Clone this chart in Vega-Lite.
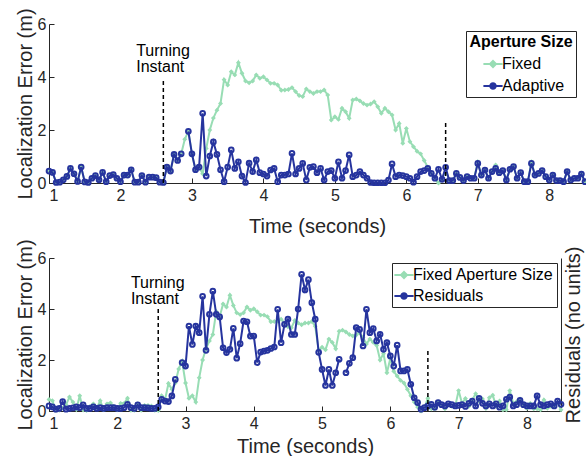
{
  "$schema": "https://vega.github.io/schema/vega-lite/v6.json",
  "padding": {"left": 15, "top": 7, "right": 0, "bottom": 0},
  "spacing": 2,
  "datasets": {
    "fixed": [
      {"t":1.00,"v":0.45},{"t":1.05,"v":0.40},{"t":1.10,"v":0.02},{"t":1.15,"v":0.03},{"t":1.20,"v":0.12},{"t":1.25,"v":0.25},{"t":1.30,"v":0.55},{"t":1.35,"v":0.35},{"t":1.40,"v":0.06},{"t":1.45,"v":0.60},
      {"t":1.50,"v":0.04},{"t":1.55,"v":0.02},{"t":1.60,"v":0.18},{"t":1.65,"v":0.28},{"t":1.70,"v":0.12},{"t":1.75,"v":0.40},{"t":1.80,"v":0.05},{"t":1.85,"v":0.28},{"t":1.90,"v":0.32},{"t":1.95,"v":0.18},
      {"t":2.00,"v":0.05},{"t":2.05,"v":0.30},{"t":2.10,"v":0.30},{"t":2.15,"v":0.50},{"t":2.20,"v":0.03},{"t":2.25,"v":0.03},{"t":2.30,"v":0.28},{"t":2.35,"v":0.03},{"t":2.40,"v":0.22},{"t":2.45,"v":0.22},
      {"t":2.50,"v":0.20},{"t":2.55,"v":0.03},{"t":2.60,"v":0.02},{"t":2.65,"v":0.60},{"t":2.70,"v":0.45},{"t":2.75,"v":1.08},{"t":2.80,"v":0.85},{"t":2.85,"v":1.10},{"t":2.90,"v":1.65},{"t":2.95,"v":1.95},
      {"t":3.00,"v":1.10},{"t":3.05,"v":0.50},{"t":3.10,"v":0.60},{"t":3.15,"v":0.35},{"t":3.20,"v":1.30},{"t":3.25,"v":2.00},{"t":3.30,"v":2.45},{"t":3.35,"v":2.75},{"t":3.40,"v":3.00},{"t":3.45,"v":3.90},
      {"t":3.50,"v":3.70},{"t":3.55,"v":4.20},{"t":3.60,"v":4.08},{"t":3.65,"v":4.54},{"t":3.70,"v":4.14},{"t":3.75,"v":3.85},{"t":3.80,"v":3.78},{"t":3.85,"v":3.85},{"t":3.90,"v":4.08},{"t":3.95,"v":3.95},
      {"t":4.00,"v":4.01},{"t":4.05,"v":3.89},{"t":4.10,"v":3.76},{"t":4.15,"v":3.76},{"t":4.20,"v":3.70},{"t":4.25,"v":3.50},{"t":4.30,"v":3.51},{"t":4.35,"v":3.53},{"t":4.40,"v":3.60},{"t":4.45,"v":3.45},
      {"t":4.50,"v":3.30},{"t":4.55,"v":3.26},{"t":4.60,"v":3.55},{"t":4.65,"v":3.45},{"t":4.70,"v":3.38},{"t":4.75,"v":3.45},{"t":4.80,"v":3.45},{"t":4.85,"v":3.51},{"t":4.90,"v":3.32},{"t":4.95,"v":2.38},
      {"t":5.00,"v":2.50},{"t":5.05,"v":2.40},{"t":5.10,"v":2.82},{"t":5.15,"v":2.69},{"t":5.20,"v":2.44},{"t":5.25,"v":3.13},{"t":5.30,"v":3.17},{"t":5.35,"v":3.10},{"t":5.40,"v":3.00},{"t":5.45,"v":2.94},
      {"t":5.50,"v":2.98},{"t":5.55,"v":3.07},{"t":5.60,"v":2.88},{"t":5.65,"v":2.63},{"t":5.70,"v":2.82},{"t":5.75,"v":2.69},{"t":5.80,"v":2.57},{"t":5.85,"v":2.00},{"t":5.90,"v":2.25},{"t":5.95,"v":1.50},
      {"t":6.00,"v":2.06},{"t":6.05,"v":1.56},{"t":6.10,"v":1.37},{"t":6.15,"v":1.20},{"t":6.20,"v":1.10},{"t":6.25,"v":0.85},{"t":6.30,"v":0.60},{"t":6.35,"v":0.35},{"t":6.40,"v":0.15},{"t":6.45,"v":0.00},
      {"t":6.50,"v":0.14},{"t":6.55,"v":0.50},{"t":6.60,"v":0.09},{"t":6.65,"v":0.09},{"t":6.70,"v":0.36},{"t":6.75,"v":0.21},{"t":6.80,"v":0.09},{"t":6.85,"v":0.24},{"t":6.90,"v":0.18},{"t":6.95,"v":0.18},
      {"t":7.00,"v":0.80},{"t":7.05,"v":0.30},{"t":7.10,"v":0.49},{"t":7.15,"v":0.18},{"t":7.20,"v":0.43},{"t":7.25,"v":0.68},{"t":7.30,"v":0.39},{"t":7.35,"v":0.47},{"t":7.40,"v":0.11},{"t":7.45,"v":0.52},
      {"t":7.50,"v":0.62},{"t":7.55,"v":0.18},{"t":7.60,"v":0.39},{"t":7.65,"v":0.05},{"t":7.70,"v":0.05},{"t":7.75,"v":0.80},{"t":7.80,"v":0.30},{"t":7.85,"v":0.36},{"t":7.90,"v":0.47},{"t":7.95,"v":0.24},
      {"t":8.00,"v":0.11},{"t":8.05,"v":0.30},{"t":8.10,"v":0.09},{"t":8.15,"v":0.09},{"t":8.20,"v":0.05},{"t":8.25,"v":0.43},{"t":8.30,"v":0.11},{"t":8.35,"v":0.18},{"t":8.40,"v":0.18},{"t":8.45,"v":0.34},
      {"t":8.50,"v":0.05}
    ],
    "adaptive": [
      {"t":1.00,"v":0.45},{"t":1.05,"v":0.40},{"t":1.10,"v":0.02},{"t":1.15,"v":0.03},{"t":1.20,"v":0.12},{"t":1.25,"v":0.25},{"t":1.30,"v":0.55},{"t":1.35,"v":0.35},{"t":1.40,"v":0.06},{"t":1.45,"v":0.60},
      {"t":1.50,"v":0.04},{"t":1.55,"v":0.02},{"t":1.60,"v":0.18},{"t":1.65,"v":0.28},{"t":1.70,"v":0.12},{"t":1.75,"v":0.40},{"t":1.80,"v":0.05},{"t":1.85,"v":0.28},{"t":1.90,"v":0.32},{"t":1.95,"v":0.18},
      {"t":2.00,"v":0.05},{"t":2.05,"v":0.30},{"t":2.10,"v":0.30},{"t":2.15,"v":0.50},{"t":2.20,"v":0.03},{"t":2.25,"v":0.03},{"t":2.30,"v":0.28},{"t":2.35,"v":0.03},{"t":2.40,"v":0.22},{"t":2.45,"v":0.22},
      {"t":2.50,"v":0.20},{"t":2.55,"v":0.03},{"t":2.60,"v":0.02},{"t":2.65,"v":0.60},{"t":2.70,"v":0.45},{"t":2.75,"v":1.08},{"t":2.80,"v":0.85},{"t":2.85,"v":1.10},{"t":2.90,"v":null},{"t":2.95,"v":1.95},
      {"t":3.00,"v":1.10},{"t":3.05,"v":0.50},{"t":3.10,"v":0.60},{"t":3.15,"v":2.63},{"t":3.20,"v":0.26},{"t":3.25,"v":1.02},{"t":3.30,"v":1.55},{"t":3.35,"v":1.08},{"t":3.40,"v":0.50},{"t":3.45,"v":0.05},
      {"t":3.50,"v":0.60},{"t":3.55,"v":1.25},{"t":3.60,"v":0.55},{"t":3.65,"v":0.80},{"t":3.70,"v":0.26},{"t":3.75,"v":0.02},{"t":3.80,"v":0.75},{"t":3.85,"v":0.43},{"t":3.90,"v":0.87},{"t":3.95,"v":0.39},
      {"t":4.00,"v":0.34},{"t":4.05,"v":0.26},{"t":4.10,"v":0.49},{"t":4.15,"v":0.55},{"t":4.20,"v":0.05},{"t":4.25,"v":0.30},{"t":4.30,"v":0.30},{"t":4.35,"v":0.34},{"t":4.40,"v":1.12},{"t":4.45,"v":0.34},
      {"t":4.50,"v":0.55},{"t":4.55,"v":0.74},{"t":4.60,"v":0.11},{"t":4.65,"v":0.59},{"t":4.70,"v":0.62},{"t":4.75,"v":0.39},{"t":4.80,"v":0.55},{"t":4.85,"v":0.11},{"t":4.90,"v":0.43},{"t":4.95,"v":0.47},
      {"t":5.00,"v":0.18},{"t":5.05,"v":0.80},{"t":5.10,"v":0.18},{"t":5.15,"v":0.47},{"t":5.20,"v":1.06},{"t":5.25,"v":0.24},{"t":5.30,"v":0.30},{"t":5.35,"v":0.43},{"t":5.40,"v":0.30},{"t":5.45,"v":0.18},
      {"t":5.50,"v":0.02},{"t":5.55,"v":0.01},{"t":5.60,"v":0.01},{"t":5.65,"v":0.01},{"t":5.70,"v":0.01},{"t":5.75,"v":0.11},{"t":5.80,"v":0.72},{"t":5.85,"v":0.24},{"t":5.90,"v":0.30},{"t":5.95,"v":0.28},
      {"t":6.00,"v":0.24},{"t":6.05,"v":0.18},{"t":6.10,"v":0.03},{"t":6.15,"v":0.24},{"t":6.20,"v":0.43},{"t":6.25,"v":0.47},{"t":6.30,"v":0.55},{"t":6.35,"v":0.36},{"t":6.40,"v":0.18},{"t":6.45,"v":0.52},
      {"t":6.50,"v":0.14},{"t":6.55,"v":0.59},{"t":6.60,"v":0.09},{"t":6.65,"v":0.09},{"t":6.70,"v":0.36},{"t":6.75,"v":0.21},{"t":6.80,"v":0.09},{"t":6.85,"v":0.24},{"t":6.90,"v":0.18},{"t":6.95,"v":0.18},
      {"t":7.00,"v":0.74},{"t":7.05,"v":0.30},{"t":7.10,"v":0.49},{"t":7.15,"v":0.18},{"t":7.20,"v":0.43},{"t":7.25,"v":0.55},{"t":7.30,"v":0.39},{"t":7.35,"v":0.47},{"t":7.40,"v":0.11},{"t":7.45,"v":0.52},
      {"t":7.50,"v":0.62},{"t":7.55,"v":0.18},{"t":7.60,"v":0.39},{"t":7.65,"v":0.05},{"t":7.70,"v":0.05},{"t":7.75,"v":0.74},{"t":7.80,"v":0.30},{"t":7.85,"v":0.36},{"t":7.90,"v":0.47},{"t":7.95,"v":0.24},
      {"t":8.00,"v":0.11},{"t":8.05,"v":0.30},{"t":8.10,"v":0.09},{"t":8.15,"v":0.09},{"t":8.20,"v":0.05},{"t":8.25,"v":0.43},{"t":8.30,"v":0.11},{"t":8.35,"v":0.18},{"t":8.40,"v":0.18},{"t":8.45,"v":0.34},
      {"t":8.50,"v":0.05}
    ],
    "resid": [
      {"t":1.00,"v":0.20},{"t":1.05,"v":0.16},{"t":1.10,"v":0.07},{"t":1.15,"v":0.10},{"t":1.20,"v":0.37},{"t":1.25,"v":0.07},{"t":1.30,"v":0.10},{"t":1.35,"v":0.12},{"t":1.40,"v":0.16},{"t":1.45,"v":0.13},
      {"t":1.50,"v":0.24},{"t":1.55,"v":0.10},{"t":1.60,"v":0.10},{"t":1.65,"v":0.16},{"t":1.70,"v":0.10},{"t":1.75,"v":0.13},{"t":1.80,"v":0.10},{"t":1.85,"v":0.13},{"t":1.90,"v":0.13},{"t":1.95,"v":0.13},
      {"t":2.00,"v":0.10},{"t":2.05,"v":0.10},{"t":2.10,"v":0.13},{"t":2.15,"v":0.26},{"t":2.20,"v":0.13},{"t":2.25,"v":0.10},{"t":2.30,"v":0.24},{"t":2.35,"v":0.13},{"t":2.40,"v":0.13},{"t":2.45,"v":0.12},
      {"t":2.50,"v":0.10},{"t":2.55,"v":0.10},{"t":2.60,"v":0.16},{"t":2.65,"v":0.46},{"t":2.70,"v":0.39},{"t":2.75,"v":0.37},{"t":2.80,"v":0.59},{"t":2.85,"v":1.24},{"t":2.90,"v":null},{"t":2.95,"v":1.90},
      {"t":3.00,"v":1.76},{"t":3.05,"v":3.33},{"t":3.10,"v":2.61},{"t":3.15,"v":3.33},{"t":3.20,"v":3.07},{"t":3.25,"v":4.50},{"t":3.30,"v":2.38},{"t":3.35,"v":3.79},{"t":3.40,"v":4.70},{"t":3.45,"v":3.79},
      {"t":3.50,"v":3.69},{"t":3.55,"v":2.48},{"t":3.60,"v":2.29},{"t":3.65,"v":2.42},{"t":3.70,"v":3.24},{"t":3.75,"v":2.07},{"t":3.80,"v":2.64},{"t":3.85,"v":3.53},{"t":3.90,"v":3.50},{"t":3.95,"v":2.94},
      {"t":4.00,"v":2.94},{"t":4.05,"v":1.90},{"t":4.10,"v":2.31},{"t":4.15,"v":2.35},{"t":4.20,"v":2.38},{"t":4.25,"v":2.45},{"t":4.30,"v":2.51},{"t":4.35,"v":3.99},{"t":4.40,"v":2.68},{"t":4.45,"v":3.40},
      {"t":4.50,"v":3.60},{"t":4.55,"v":3.00},{"t":4.60,"v":3.00},{"t":4.65,"v":4.00},{"t":4.70,"v":5.36},{"t":4.75,"v":4.75},{"t":4.80,"v":5.15},{"t":4.85,"v":4.25},{"t":4.90,"v":3.60},{"t":4.95,"v":2.30},
      {"t":5.00,"v":1.63},{"t":5.05,"v":1.00},{"t":5.10,"v":1.63},{"t":5.15,"v":1.00},{"t":5.20,"v":1.50},{"t":5.25,"v":2.03},{"t":5.30,"v":null},{"t":5.35,"v":1.50},{"t":5.40,"v":1.87},{"t":5.45,"v":2.09},
      {"t":5.50,"v":3.27},{"t":5.55,"v":3.20},{"t":5.60,"v":2.55},{"t":5.65,"v":3.99},{"t":5.70,"v":3.07},{"t":5.75,"v":3.23},{"t":5.80,"v":2.75},{"t":5.85,"v":3.01},{"t":5.90,"v":2.42},{"t":5.95,"v":2.68},
      {"t":6.00,"v":2.16},{"t":6.05,"v":1.76},{"t":6.10,"v":2.58},{"t":6.15,"v":1.57},{"t":6.20,"v":1.57},{"t":6.25,"v":1.63},{"t":6.30,"v":1.05},{"t":6.35,"v":0.52},{"t":6.40,"v":0.33},{"t":6.45,"v":0.07},
      {"t":6.50,"v":0.13},{"t":6.55,"v":0.20},{"t":6.60,"v":0.26},{"t":6.65,"v":0.15},{"t":6.70,"v":0.33},{"t":6.75,"v":0.25},{"t":6.80,"v":0.20},{"t":6.85,"v":0.28},{"t":6.90,"v":0.25},{"t":6.95,"v":0.20},
      {"t":7.00,"v":0.22},{"t":7.05,"v":0.25},{"t":7.10,"v":0.18},{"t":7.15,"v":0.30},{"t":7.20,"v":0.39},{"t":7.25,"v":0.20},{"t":7.30,"v":0.50},{"t":7.35,"v":0.30},{"t":7.40,"v":0.20},{"t":7.45,"v":0.28},
      {"t":7.50,"v":0.20},{"t":7.55,"v":0.28},{"t":7.60,"v":0.15},{"t":7.65,"v":0.20},{"t":7.70,"v":0.46},{"t":7.75,"v":0.55},{"t":7.80,"v":0.20},{"t":7.85,"v":0.25},{"t":7.90,"v":0.42},{"t":7.95,"v":0.25},
      {"t":8.00,"v":0.20},{"t":8.05,"v":0.20},{"t":8.10,"v":0.20},{"t":8.15,"v":0.59},{"t":8.20,"v":0.25},{"t":8.25,"v":0.20},{"t":8.30,"v":0.25},{"t":8.35,"v":0.28},{"t":8.40,"v":0.20},{"t":8.45,"v":0.39},
      {"t":8.50,"v":0.26}
    ],
    "turnsTop": [{"t":2.6,"y0":0,"y1":3.96},{"t":6.55,"y0":0,"y1":2.27}],
    "turnsBottom": [{"t":2.6,"y0":0,"y1":4.0},{"t":6.55,"y0":0,"y1":2.35}],
    "labelTop": [{"t":2.22,"v":5.3,"label":"Turning\nInstant"}],
    "labelBottom": [{"t":2.2,"v":5.35,"label":"Turning\nInstant"}]
  },
  "vconcat": [
    {
      "width": 536,
      "height": 159,
      "layer": [
        {
          "data": {"name": "fixed"},
          "mark": {"type": "line", "strokeWidth": 2},
          "encoding": {
            "x": {"field": "t", "type": "quantitative", "scale": {"domain": [1, 8.5], "nice": false, "zero": false},
                  "axis": {"title": "Time (seconds)", "values": [1,2,3,4,5,6,7,8], "format": "d", "labelPadding": 9, "titlePadding": 13}},
            "y": {"field": "v", "type": "quantitative", "scale": {"domain": [0, 6], "nice": false},
                  "axis": {"title": "Localization Error (m)", "values": [0,2,4,6], "format": "d", "titlePadding": 2}},
            "color": {"datum": "Fixed", "type": "nominal",
              "scale": {"domain": ["Fixed", "Adaptive"], "range": ["#98DDB4", "#26349E"]},
              "legend": {
                "title": "Aperture Size", "orient": "none", "legendX": 417, "legendY": 7,
                "strokeColor": "#262626", "fillColor": "white", "padding": 3,
                "titleFontSize": 16, "titleFontWeight": "bold", "titleFont": "Liberation Sans", "titleColor": "black",
                "titleAnchor": "middle", "titlePadding": 5,
                "labelFontSize": 16, "labelFont": "Liberation Sans", "labelColor": "black",
                "symbolSize": 256, "symbolStrokeWidth": 2, "rowPadding": 5, "symbolOffset": 6, "labelOffset": 0,
                "encode": {"symbols": {"update": {
                  "shape": {"signal": "datum.value === 'Fixed' ? 'M-1.2,0H1.2M0,-0.38L0.38,0L0,0.38L-0.38,0Z' : 'M-1.2,0H1.2M0.34,0A0.34,0.34 0 1 1 -0.34,0A0.34,0.34 0 1 1 0.34,0Z'"},
                  "fill": {"signal": "datum.value === 'Fixed' ? '#98DDB4' : 'transparent'"},
                  "stroke": {"signal": "datum.value === 'Fixed' ? '#98DDB4' : '#26349E'"},
                  "strokeWidth": {"value": 2},
                  "opacity": {"value": 1}
                }}}
              }}
          }
        },
        {
          "data": {"name": "fixed"},
          "mark": {"type": "point", "shape": "diamond", "filled": true, "size": 24, "opacity": 1},
          "encoding": {
            "x": {"field": "t", "type": "quantitative"},
            "y": {"field": "v", "type": "quantitative"},
            "color": {"datum": "Fixed", "type": "nominal"}
          }
        },
        {
          "data": {"name": "adaptive"},
          "mark": {"type": "line", "strokeWidth": 2},
          "encoding": {
            "x": {"field": "t", "type": "quantitative"},
            "y": {"field": "v", "type": "quantitative"},
            "color": {"datum": "Adaptive", "type": "nominal"}
          }
        },
        {
          "data": {"name": "adaptive"},
          "mark": {"type": "point", "shape": "circle", "filled": false, "size": 22, "strokeWidth": 2, "opacity": 1},
          "encoding": {
            "x": {"field": "t", "type": "quantitative"},
            "y": {"field": "v", "type": "quantitative"},
            "color": {"datum": "Adaptive", "type": "nominal"}
          }
        },
        {
          "data": {"name": "turnsTop"},
          "mark": {"type": "rule", "color": "black", "strokeWidth": 1.5, "strokeDash": [4, 3]},
          "encoding": {
            "x": {"field": "t", "type": "quantitative"},
            "y": {"field": "y0", "type": "quantitative"},
            "y2": {"field": "y1"}
          }
        },
        {
          "data": {"name": "labelTop"},
          "mark": {"type": "text", "align": "left", "baseline": "top", "lineBreak": "\n", "fontSize": 16, "lineHeight": 16, "font": "Liberation Sans", "color": "black"},
          "encoding": {
            "x": {"field": "t", "type": "quantitative"},
            "y": {"field": "v", "type": "quantitative"},
            "text": {"field": "label"}
          }
        },
        {
          "mark": {"type": "rule", "color": "#262626", "strokeWidth": 1},
          "encoding": {
            "x": {"datum": 6.83},
            "x2": {"datum": 8.40},
            "y": {"datum": 4.98}
          }
        }
      ]
    },
    {
      "width": 512,
      "height": 153,
      "layer": [
        {
          "layer": [
            {
              "data": {"name": "fixed"},
              "mark": {"type": "line", "strokeWidth": 2},
              "encoding": {
                "x": {"field": "t", "type": "quantitative", "scale": {"domain": [1, 8.5], "nice": false, "zero": false},
                      "axis": {"title": "Time (seconds)", "values": [1,2,3,4,5,6,7,8], "format": "d", "labelPadding": 9, "titlePadding": 5}},
                "y": {"field": "v", "type": "quantitative", "scale": {"domain": [0, 6], "nice": false},
                      "axis": {"title": "Localization Error (m)", "values": [0,2,4,6], "format": "d", "titlePadding": 2}},
                "color": {"datum": "Fixed Aperture Size", "type": "nominal",
                  "scale": {"domain": ["Fixed Aperture Size", "Residuals"], "range": ["#98DDB4", "#26349E"]},
                  "legend": {
                    "title": null, "orient": "none", "legendX": 343, "legendY": 5,
                    "strokeColor": "#262626", "fillColor": "white", "padding": 3,
                    "labelFontSize": 16, "labelFont": "Liberation Sans", "labelColor": "black",
                    "symbolSize": 256, "symbolStrokeWidth": 2, "rowPadding": 4, "symbolOffset": 0, "labelOffset": 0,
                    "encode": {"symbols": {"update": {
                      "shape": {"signal": "datum.value === 'Residuals' ? 'M-1.2,0H1.2M0.34,0A0.34,0.34 0 1 1 -0.34,0A0.34,0.34 0 1 1 0.34,0Z' : 'M-1.2,0H1.2M0,-0.38L0.38,0L0,0.38L-0.38,0Z'"},
                      "fill": {"signal": "datum.value === 'Residuals' ? 'transparent' : '#98DDB4'"},
                      "stroke": {"signal": "datum.value === 'Residuals' ? '#26349E' : '#98DDB4'"},
                      "strokeWidth": {"value": 2},
                      "opacity": {"value": 1}
                    }}}
                  }}
              }
            },
            {
              "data": {"name": "fixed"},
              "mark": {"type": "point", "shape": "diamond", "filled": true, "size": 24, "opacity": 1},
              "encoding": {
                "x": {"field": "t", "type": "quantitative"},
                "y": {"field": "v", "type": "quantitative"},
                "color": {"datum": "Fixed Aperture Size", "type": "nominal"}
              }
            },
            {
              "data": {"name": "resid"},
              "mark": {"type": "line", "strokeWidth": 2},
              "encoding": {
                "x": {"field": "t", "type": "quantitative"},
                "y": {"field": "v", "type": "quantitative"},
                "color": {"datum": "Residuals", "type": "nominal"}
              }
            },
            {
              "data": {"name": "resid"},
              "mark": {"type": "point", "shape": "circle", "filled": false, "size": 22, "strokeWidth": 2, "opacity": 1},
              "encoding": {
                "x": {"field": "t", "type": "quantitative"},
                "y": {"field": "v", "type": "quantitative"},
                "color": {"datum": "Residuals", "type": "nominal"}
              }
            },
            {
              "data": {"name": "labelBottom"},
              "mark": {"type": "text", "align": "left", "baseline": "top", "lineBreak": "\n", "fontSize": 16, "lineHeight": 16, "font": "Liberation Sans", "color": "black"},
              "encoding": {
                "x": {"field": "t", "type": "quantitative"},
                "y": {"field": "v", "type": "quantitative"},
                "text": {"field": "label"}
              }
            }
          ]
        },
        {
          "data": {"name": "turnsBottom"},
          "mark": {"type": "rule", "color": "black", "strokeWidth": 1.5, "strokeDash": [4, 3]},
          "encoding": {
            "x": {"field": "t", "type": "quantitative"},
            "y": {"field": "y0", "type": "quantitative", "scale": {"domain": [0, 6], "nice": false},
                  "axis": {"orient": "right", "title": "Residuals (no units)", "labels": false, "ticks": false, "titleAngle": 270, "titleBaseline": "top", "titlePadding": 2}},
            "y2": {"field": "y1"}
          }
        }
      ],
      "resolve": {"scale": {"y": "independent"}}
    }
  ],
  "resolve": {"scale": {"color": "independent"}, "legend": {"color": "independent"}},
  "config": {
    "view": {"stroke": null},
    "font": "Liberation Sans",
    "axis": {
      "grid": false,
      "labelFont": "Liberation Sans", "titleFont": "Liberation Sans",
      "labelFontSize": 16, "titleFontSize": 20, "titleFontWeight": "normal",
      "labelColor": "#262626", "titleColor": "#262626",
      "domainColor": "#262626", "tickColor": "#262626",
      "domainWidth": 1, "tickWidth": 1, "tickSize": -5, "labelPadding": 8
    }
  }
}
